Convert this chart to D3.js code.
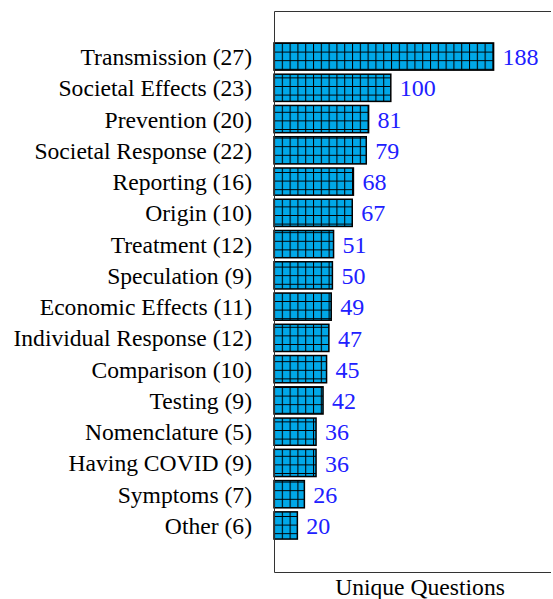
<!DOCTYPE html>
<html>
<head>
<meta charset="utf-8">
<script src="https://cdn.jsdelivr.net/npm/d3@7"></script>
<style>
  body { margin: 0; background: #fff; }
  svg { display: block; }
</style>
</head>
<body>
<svg width="553" height="599"></svg>
<script>
// topics, with number of subtopics in brackets
var topics = ["Transmission", "Societal Effects", "Prevention", "Societal Response",
  "Reporting", "Origin", "Treatment", "Speculation", "Economic Effects",
  "Individual Response", "Comparison", "Testing", "Nomenclature", "Having COVID",
  "Symptoms", "Other"];
var subtopics = [27, 23, 20, 22, 16, 10, 12, 9, 11, 12, 10, 9, 5, 9, 7, 6];
var questions = [188, 100, 81, 79, 68, 67, 51, 50, 49, 47, 45, 42, 36, 36, 26, 20];

var serif = "'Liberation Serif', serif";

var svg = d3.select("svg"),
    left = 274, plotTop = 11, plotBottom = 572, right = 566; // axis goes past the window

var labels = topics.map(function(t, i) { return t + " (" + subtopics[i] + ")"; });

var x = d3.scaleLinear().domain([0, 250]).range([left, right]);
var y = d3.scaleBand().domain(labels).range([42, 540]).paddingInner(0.13).paddingOuter(0.03);

// grid hatch like the pgf "grid" pattern
var defs = svg.append("defs");
var pat = defs.append("pattern")
    .attr("id", "grid")
    .attr("patternUnits", "userSpaceOnUse")
    .attr("x", left).attr("y", 0)
    .attr("width", 7.8).attr("height", 8.6);
pat.append("rect").attr("width", 7.8).attr("height", 8.6).attr("fill", "#00a8e8");
pat.append("path")
    .attr("d", "M0,0.5H7.8M0.5,0V8.6")
    .attr("stroke", "#000").attr("stroke-width", 1.1);

var rowData = labels.map(function(l, i) { return {label: l, value: questions[i]}; });

svg.append("g")
  .selectAll("rect")
  .data(rowData)
  .enter().append("rect")
    .attr("x", x(0))
    .attr("y", function(d) { return y(d.label); })
    .attr("width", function(d) { return x(d.value) - x(0); })
    .attr("height", y.bandwidth())
    .attr("fill", "url(#grid)")
    .attr("stroke", "#000")
    .attr("stroke-width", 1.5);

// values at the end of the bars
svg.append("g")
  .selectAll("text")
  .data(rowData)
  .enter().append("text")
    .attr("x", function(d) { return x(d.value) + 9; })
    .attr("y", function(d) { return y(d.label) + y.bandwidth() / 2; })
    .attr("dy", "0.36em")
    .attr("fill", "#2020ff")
    .style("font-family", serif)
    .style("font-size", "24px")
    .text(function(d) { return d.value; });

// category labels
var yAxis = d3.axisLeft(y).tickSize(0).tickPadding(22);
var ga = svg.append("g")
    .attr("transform", "translate(" + left + ",0)")
    .call(yAxis);
ga.select(".domain").remove();
ga.selectAll("text")
    .attr("fill", "#000")
    .attr("dy", "0.36em")
    .style("font-size", "23.6px")
    .style("font-family", serif);

// frame: top, left and bottom, cut off near the right edge
var cut = 551;
svg.append("path")
    .attr("d", "M" + cut + "," + (plotTop + 0.5) + "H" + (left + 0.5) +
               "V" + (plotBottom + 0.5) + "H" + cut)
    .attr("fill", "none")
    .attr("stroke", "#333")
    .attr("stroke-width", 1);

svg.append("text")
    .attr("x", (left + right) / 2)
    .attr("y", 595)
    .attr("text-anchor", "middle")
    .style("font-family", serif)
    .style("font-size", "23.6px")
    .text("Unique Questions");
</script>
</body>
</html>
